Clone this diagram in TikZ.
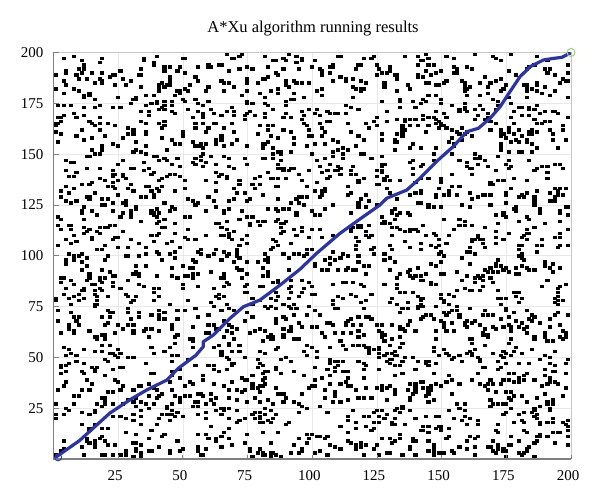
\documentclass[tikz,border=0pt]{standalone}
\usepackage{fontspec}
\setmainfont{Liberation Serif}
\definecolor{routeblue}{RGB}{42,52,168}
\definecolor{goalgreen}{RGB}{150,210,110}
\begin{document}
\begin{tikzpicture}[x=1pt,y=1pt,
	obstacle/.style={fill=black},
	gridline/.style={draw=black!9,line width=0.6pt},
	route/.style={draw=routeblue,line width=3.2pt,line join=round,line cap=round},
	ticklabel/.style={font=\fontsize{15}{17}\selectfont,inner sep=0pt}]
	\useasboundingbox[fill=white](0,0) rectangle (600,502);
	\node[font=\fontsize{16.5}{19}\selectfont] (title) at (313,473) {A*Xu algorithm running results};
	\begin{scope}[shift={(53.5,43)},x=2.5875pt,y=2.0325pt]
	\foreach \k in {25,50,...,175}{
		\draw[gridline] (\k,0) -- (\k,200);
		\draw[gridline] (0,\k) -- (200,\k);
	}
	% obstacles
	\pgfmathsetseed{4217}
	\foreach \i in {1,...,2700}{
		\pgfmathrandominteger{\ox}{0}{198}
		\pgfmathrandominteger{\oy}{0}{198}
		\fill[obstacle] (\ox+0.1,\oy+0.1) rectangle ++(1.6,1.7);
	}
	\draw[black!22,line width=0.8pt] (0,200) -- (200,200) -- (200,0);
	\draw[black!50,line width=1.6pt] (0,200) -- (0,0) -- (200,0);
	\foreach \k in {25,50,...,200}{
		\draw[black!50,line width=0.8pt] (\k,0) -- (\k,2);
		\draw[black!50,line width=0.8pt] (0,\k) -- (2,\k);
		\node[ticklabel,anchor=center] (x\k) at ([xshift=-3pt]\k,-8.4) {\k};
		\node[ticklabel,anchor=east] (y\k) at ([xshift=-10pt]0,\k) {\k};
	}
	% route found
	\draw[route] (1,1) -- (10,9) -- (21.8,22.6) -- (30,29.5) -- (36.1,34) -- (43.9,38.9)
		-- (48.2,44.6) -- (55,51) -- (57.9,55.3) -- (57.9,57.7) -- (61.8,61) -- (68.2,69.2)
		-- (73.4,74.9) -- (79.8,78.2) -- (88,86) -- (95.3,93.4) -- (101.7,101.2) -- (110.7,111)
		-- (119.7,119.2) -- (126.2,125) -- (128.8,128.3) -- (136.5,132.3) -- (141.6,138.1)
		-- (149,147.5) -- (154.5,153.7) -- (159.7,161) -- (164.2,162.7) -- (168.7,167.6)
		-- (172.6,173.3) -- (176.4,180.7) -- (180.3,188.1) -- (184.2,193) -- (189.3,196.3)
		-- (193.2,197.1) -- (196.4,197.6) -- (199.6,199.6);
	\draw[routeblue,line width=0.9pt] (1.8,0.8) circle[radius=3.5pt];
	\draw[goalgreen,line width=1pt] (200,200) circle[radius=4pt];
	\end{scope}
\end{tikzpicture}
\end{document}
